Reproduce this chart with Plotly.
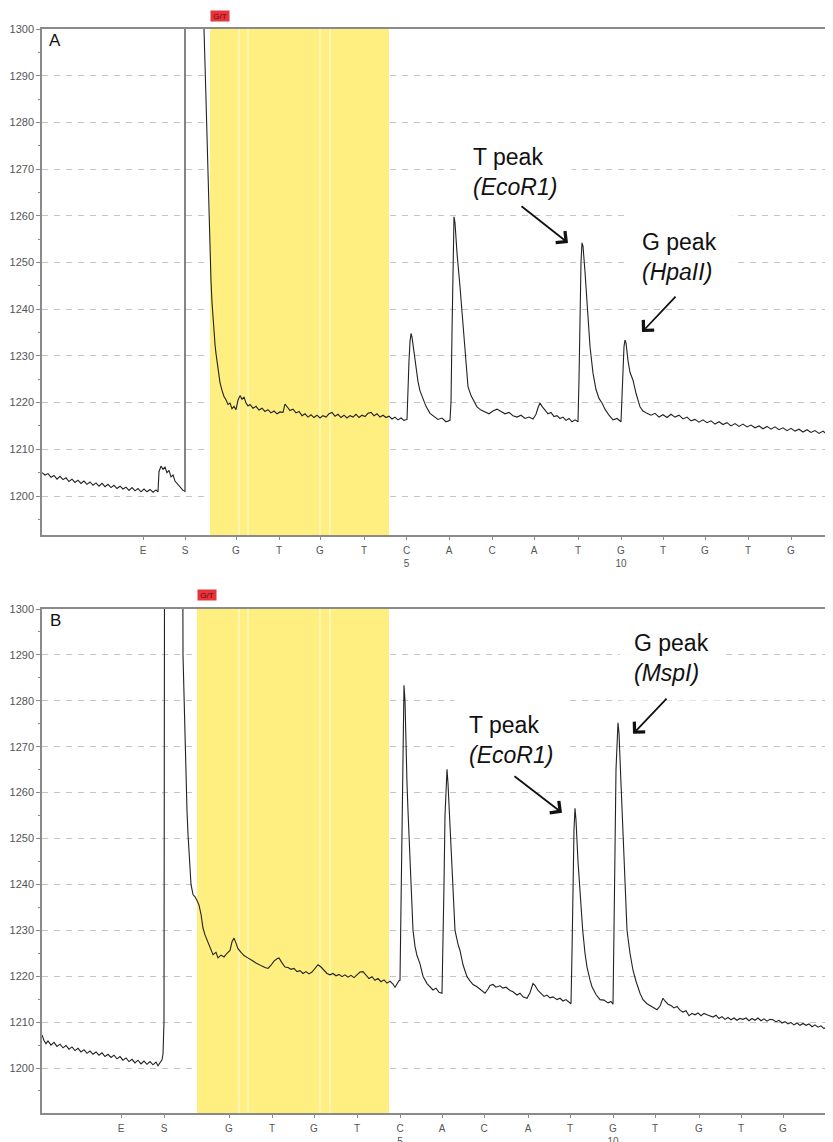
import plotly.graph_objects as go

# ---------------- data ----------------
# Panel A pyrogram: (time [a.u.], light signal)
trace_a = [
    (42,1205.0),(45,1204.5),(48,1204.8),(51,1204.0),(54,1204.4),(57,1203.6),(60,1204.2),(63,1203.5),(66,1203.9),(69,1203.1),
    (72,1203.6),(75,1202.9),(78,1203.4),(81,1202.7),(84,1203.2),(87,1202.5),(90,1203.0),(93,1202.3),(96,1202.8),(99,1202.1),
    (102,1202.7),(105,1202.0),(108,1202.5),(111,1201.8),(114,1202.3),(117,1201.6),(120,1202.1),(123,1201.5),(126,1201.9),(129,1201.2),
    (132,1201.8),(135,1201.1),(138,1201.6),(141,1200.9),(144,1201.5),(147,1200.9),(150,1201.4),(153,1200.8),(156,1201.3),(158,1200.9),
    (159,1205.2),(161,1206.4),(163,1205.7),(165,1206.2),(167,1205.0),(169,1205.5),(171,1204.1),(173,1204.5),(175,1203.2),(177,1202.7),
    (179,1202.0),(181,1201.6),(183,1201.2),(185,1201.0),
    (185,1400),(203,1400),(204,1300),(206,1285),(207,1277),(208,1268),(209,1259),(210,1251),(211,1246),(212,1241.5),(213,1238),
    (214,1235),(215,1232.5),(216,1230.5),(218,1227),(220,1224.3),(222,1222.6),(224,1221.3),(226,1220.6),(228,1219.6),(230,1219.9),
    (232,1218.7),(234,1219.2),(236,1218.5),(238,1220.5),(240,1221.5),(242,1220.7),(244,1221.2),(246,1219.9),(248,1219.3),(250,1219.6),
    (253,1218.8),(256,1219.2),(259,1218.4),(262,1218.8),(265,1218.1),(268,1218.5),(271,1217.8),(274,1218.2),(277,1217.6),(280,1218.0),
    (283,1217.9),(285,1219.7),(287,1219.1),(290,1218.3),(293,1218.6),(296,1217.8),(299,1218.1),(302,1217.2),(305,1217.6),(308,1216.9),
    (311,1217.4),(314,1216.8),(317,1217.3),(320,1216.7),(323,1217.2),(326,1216.9),(329,1217.6),(332,1217.9),(335,1217.1),(338,1217.5),
    (341,1216.8),(344,1217.3),(347,1216.7),(350,1217.2),(353,1216.9),(356,1217.5),(359,1216.8),(362,1217.3),(365,1217.0),(368,1217.7),
    (371,1217.9),(374,1217.2),(377,1217.6),(380,1216.9),(383,1217.3),(386,1216.8),(389,1217.1),(392,1216.5),(395,1216.9),(398,1216.3),
    (401,1216.7),(404,1216.2),(407,1216.4),
    (408,1224),(409,1229),(410,1233),(411,1234.8),(412,1234),(414,1230.5),(416,1227),(418,1224.5),(420,1222.5),(423,1220.6),
    (426,1219.2),(430,1217.7),(434,1217.1),(438,1216.4),(442,1216.7),(446,1215.9),(450,1216.2),
    (451,1220),(452,1235),(453,1250),(454,1259.8),(455,1258.5),(457,1252),(460,1244.8),(462,1239),(465,1230.6),(468,1223.4),
    (471,1221.5),(474,1220.2),(477,1219.1),(481,1218.4),(485,1218.0),(489,1217.6),(493,1218.2),(497,1218.6),(501,1218.1),(505,1217.6),
    (509,1217.9),(513,1217.2),(517,1216.9),(521,1217.3),(525,1216.6),(529,1216.9),(533,1216.5),(536,1217.5),(538,1218.9),(540,1219.9),
    (542,1219.2),(545,1218.5),(548,1217.6),(551,1217.9),(554,1217.0),(557,1217.2),(560,1216.6),(563,1216.9),(566,1216.2),(569,1216.6),
    (572,1215.9),(575,1216.3),(578,1215.9),
    (579,1225),(580,1240),(581,1250),(582,1254.2),(583,1253.5),(585,1248),(588,1237.7),(590,1232),(593,1226.3),(596,1222.8),
    (599,1220.9),(602,1219.9),(605,1218.6),(609,1217.3),(613,1216.3),(617,1216.6),(621,1215.9),
    (622,1222),(623,1228),(624,1232),(625,1233.4),(626,1232.8),(628,1229),(630,1226.5),(633,1224.8),(636,1222),(640,1219.1),
    (643,1218.2),(647,1217.7),(651,1217.3),(655,1217.7),(659,1216.9),(663,1217.4),(667,1216.8),(671,1217.5),(675,1216.9),(679,1217.3),
    (683,1216.5),(687,1216.9),(691,1216.1),(695,1216.4),(699,1215.8),(703,1216.3),(707,1215.7),(711,1216.1),(715,1215.4),(719,1215.9),
    (723,1215.3),(727,1215.7),(731,1215.0),(735,1215.5),(739,1214.9),(743,1215.4),(747,1214.8),(751,1215.2),(755,1214.6),(759,1215.0),
    (763,1214.4),(767,1214.9),(771,1214.3),(775,1214.8),(779,1214.2),(783,1214.6),(787,1214.0),(791,1214.5),(795,1213.9),(799,1214.3),
    (803,1213.7),(807,1214.2),(811,1213.6),(815,1214.0),(819,1213.4),(823,1213.9),(827,1213.2),(830,1213.7),(833,1213.1),
]

# Panel B pyrogram
trace_b = [
    (42,1207.2),(44,1206.0),(46,1205.3),(48,1205.9),(51,1205.0),(54,1205.6),(57,1204.7),(60,1205.2),(63,1204.4),(66,1204.9),
    (69,1204.1),(72,1204.6),(75,1203.8),(78,1204.3),(81,1203.5),(84,1204.0),(87,1203.2),(90,1203.7),(93,1203.0),(96,1203.5),
    (99,1202.8),(102,1203.3),(105,1202.5),(108,1203.0),(111,1202.3),(114,1202.8),(117,1202.0),(120,1202.5),(123,1201.7),(126,1202.2),
    (129,1201.4),(132,1201.9),(135,1201.1),(138,1201.7),(141,1200.9),(144,1201.5),(147,1200.8),(150,1201.4),(153,1200.7),(156,1201.3),
    (158,1200.5),(160,1201.1),(162,1201.8),(163,1203),(164,1210),(165,1400),(182,1400),(183,1290),(184,1280),(185,1272),
    (186,1263),(187,1256),(188,1251),(189,1247),(190,1243),(191,1240),(193,1237.8),(195,1237.3),(197,1236.5),(199,1235.5),
    (201,1233.5),(203,1230.5),(205,1229),(208,1227.3),(210,1226.5),(213,1224.7),(216,1225.2),(218,1224.0),(221,1224.6),(224,1224.2),
    (227,1225.0),(230,1225.6),(232,1227.5),(234,1228.3),(236,1227.2),(238,1226.0),(241,1225.2),(244,1224.5),(247,1224.1),(250,1223.6),
    (253,1223.3),(256,1222.9),(259,1222.5),(262,1222.2),(265,1221.9),(268,1221.7),(271,1222.4),(274,1223.3),(277,1223.8),(279,1224.0),
    (282,1222.9),(285,1222.0),(288,1221.9),(291,1221.5),(294,1221.7),(297,1221.0),(300,1221.2),(303,1220.6),(306,1221.0),(309,1220.5),
    (312,1220.9),(315,1221.6),(318,1222.5),(321,1222.0),(324,1221.3),(327,1220.6),(330,1220.3),(333,1220.6),(336,1220.1),(339,1220.4),
    (342,1219.9),(345,1220.3),(348,1219.8),(351,1220.2),(354,1219.7),(357,1220.3),(360,1220.9),(363,1221.0),(366,1220.2),(369,1219.5),
    (372,1219.9),(375,1219.1),(378,1219.5),(381,1218.8),(384,1219.2),(387,1218.5),(390,1218.9),(393,1218.3),(395,1217.6),(397,1218.4),
    (399,1219.0),(400,1219.1),
    (401,1235),(402,1255),(403,1273),(404,1283.4),(405,1280),(406,1268),(407,1262),(408,1256),(410,1245.4),(411,1238),
    (413,1230),(415,1226.5),(417,1224.5),(420,1222.7),(423,1220.0),(427,1218.4),(430,1217.8),(433,1217.0),(436,1217.4),(439,1216.5),
    (442,1216.3),
    (443,1225),(444,1240),(445,1255),(447,1265.1),(448,1262),(450,1252),(452,1245),(455,1230),(458,1227),(460,1225.6),
    (463,1222.5),(467,1219.9),(470,1219.0),(473,1218.2),(477,1217.7),(481,1217.0),(485,1216.3),(488,1217.2),(490,1218.0),(493,1218.2),
    (496,1217.6),(500,1217.9),(503,1217.4),(506,1217.6),(510,1216.9),(513,1216.6),(517,1215.9),(520,1216.3),(523,1215.5),(527,1215.2),
    (530,1216.4),(533,1218.4),(535,1218.0),(538,1216.9),(541,1216.2),(544,1215.6),(547,1215.9),(550,1215.3),(553,1215.5),(557,1214.9),
    (560,1215.2),(563,1214.6),(566,1214.9),(569,1214.3),(571,1214.0),
    (572,1225),(573,1240),(574,1252),(575,1256.6),(576,1254),(578,1245),(580,1238),(582.7,1230),(585,1225),(587,1222),
    (590,1219.2),(592,1217.7),(596,1216.0),(600,1214.9),(604,1214.8),(608,1214.2),(611,1214.5),(613,1213.9),
    (614,1230),(615,1250),(616,1265),(618,1275.2),(619,1273),(621,1262),(623,1250),(625,1238),(627,1230),(630,1225),
    (633,1221.3),(636,1218.9),(640,1216.3),(643,1214.9),(647,1214.0),(650,1213.6),(653,1213.2),(657,1212.7),(660,1213.5),(663,1215.2),
    (665,1214.6),(668,1213.9),(671,1213.6),(674,1213.1),(677,1213.4),(680,1212.6),(683,1212.2),(686,1212.5),(689,1211.4),(692,1211.9),
    (695,1211.6),(698,1212.0),(701,1211.4),(704,1211.9),(707,1211.6),(710,1211.3),(713,1211.1),(716,1211.5),(719,1210.8),(722,1211.2),
    (725,1210.6),(728,1211.0),(731,1210.5),(734,1210.9),(737,1210.4),(740,1210.8),(743,1210.6),(746,1210.9),(749,1210.3),(752,1210.8),
    (755,1210.4),(758,1210.9),(761,1210.3),(764,1210.7),(767,1210.2),(770,1210.6),(773,1210.5),(776,1210.1),(779,1210.4),(782,1209.8),
    (785,1210.1),(788,1209.6),(791,1209.9),(794,1209.4),(797,1209.8),(800,1209.3),(803,1209.7),(806,1209.3),(809,1209.6),(812,1209.0),
    (815,1209.4),(818,1208.9),(821,1209.2),(824,1208.6),(827,1209.0),(830,1208.5),(833,1208.8),
]

time_a = [p[0] for p in trace_a]
signal_a = [p[1] for p in trace_a]
time_b = [p[0] for p in trace_b]
signal_b = [p[1] for p in trace_b]

dispensation_labels = ["E", "S", "G", "T", "G", "T", "C<br>5", "A", "C", "A", "T", "G<br>10", "T", "G", "T", "G"]
dispensation_time_a = [143, 185, 236, 279, 320, 364, 406.5, 449, 492, 534, 578, 621, 663, 705, 748, 791]
dispensation_time_b = [121, 164, 229, 272, 314, 357, 400, 442, 484, 528, 570, 613, 655, 699, 741, 783]

variable_region_a = [210, 389]
variable_region_b = [197, 389]
region_gaps = [239, 248, 320, 330]

time_range = [42, 833]
y_range_a = [1191.65, 1300]
y_range_b = [1190.2, 1300]

# ---------------- figure ----------------
# the page body has an 8px margin, so the figure is 8px smaller than the window
OFF = 8
W, H = 833 - OFF, 1142 - OFF
FONT = "Arial, Liberation Sans, Helvetica, sans-serif"
AXIS_COL = "#8a8a8a"
TICK_COL = "#555555"
GRID_COL = "#c4c4c4"
YELLOW = "#FFEE80"

def py(p):  # window pixel row -> paper fraction
    return 1 - (p - OFF) / H

fig = go.Figure()
fig.add_trace(go.Scatter(x=time_a, y=signal_a, mode="lines", line=dict(color="#222222", width=1.1),
                         xaxis="x", yaxis="y", showlegend=False, hoverinfo="skip"))
fig.add_trace(go.Scatter(x=time_b, y=signal_b, mode="lines", line=dict(color="#222222", width=1.1),
                         xaxis="x2", yaxis="y2", showlegend=False, hoverinfo="skip"))

def xaxis_cfg(ticks_at, anchor):
    return dict(domain=[0, 1], anchor=anchor, range=time_range, showgrid=False, zeroline=False,
                showline=True, linecolor=AXIS_COL, linewidth=1.5, mirror=True,
                tickmode="array", tickvals=ticks_at, ticktext=dispensation_labels,
                ticks="outside", ticklen=3, tickcolor=AXIS_COL,
                tickfont=dict(family=FONT, size=10, color=TICK_COL), ticklabelstandoff=2)

def yaxis_cfg(dom, rng, anchor):
    return dict(domain=dom, anchor=anchor, range=rng, tickmode="linear", tick0=1200, dtick=10,
                showgrid=True, gridcolor=GRID_COL, griddash="6px,6px", gridwidth=1, zeroline=False,
                showline=True, linecolor=AXIS_COL, linewidth=1.5,
                ticks="outside", ticklen=4, tickcolor=AXIS_COL,
                minor=dict(dtick=5, tick0=1195, ticks="outside", ticklen=2, tickcolor=AXIS_COL, showgrid=False),
                tickfont=dict(family=FONT, size=11, color=TICK_COL))

dom_a = [py(535), py(29)]
dom_b = [py(1113), py(609)]

shapes = []
for xr, yr, region, rng in (("x", "y", variable_region_a, y_range_a), ("x2", "y2", variable_region_b, y_range_b)):
    shapes.append(dict(type="rect", xref=xr, yref=yr, x0=region[0], x1=region[1], y0=rng[0], y1=rng[1],
                       fillcolor=YELLOW, line=dict(width=0), layer="between"))
    for g in region_gaps:
        shapes.append(dict(type="line", xref=xr, yref=yr, x0=g, x1=g, y0=rng[0], y1=rng[1],
                           line=dict(color="#fffbe3", width=1), layer="between"))

ann = []
# panel letters
ann.append(dict(text="A", xref="x domain", yref="y domain", x=0.006, y=1.0, xanchor="left", yanchor="top",
                showarrow=False, font=dict(family=FONT, size=17, color="#111")))
ann.append(dict(text="B", xref="x2 domain", yref="y2 domain", x=0.008, y=1.0, xanchor="left", yanchor="top",
                showarrow=False, font=dict(family=FONT, size=17, color="#111")))
# G/T markers
ann.append(dict(text="G/T", xref="x", yref="paper", x=variable_region_a[0], y=py(16), xanchor="left", yanchor="middle",
                showarrow=False, bgcolor="#e8333a", width=18, height=10, borderpad=0,
                font=dict(family=FONT, size=8, color="#5a0a0a")))
ann.append(dict(text="G/T", xref="x2", yref="paper", x=variable_region_b[0], y=py(595), xanchor="left", yanchor="middle",
                showarrow=False, bgcolor="#e8333a", width=18, height=10, borderpad=0,
                font=dict(family=FONT, size=8, color="#5a0a0a")))

LBL = dict(family=FONT, size=23, color="#111")
def label(text, xr, yr, x, y):
    return dict(text=text, xref=xr, yref=yr, x=x, y=y, xanchor="left", yanchor="top", align="left",
                showarrow=False, bgcolor="white", borderpad=14, font=LBL)

ann.append(label("T peak<br><i>(EcoR1)</i>", "x", "y", 458, 1278.6))
ann.append(label("G peak<br><i>(HpaII)</i>", "x", "y", 627, 1260.4))
ann.append(label("G peak<br><i>(MspI)</i>", "x2", "y2", 619, 1298.7))
ann.append(label("T peak<br><i>(EcoR1)</i>", "x2", "y2", 454, 1280.8))

def arrow(xr, yr, tail, tip):
    return dict(text="", xref=xr, yref=yr, axref=xr, ayref=yr, x=tip[0], y=tip[1], ax=tail[0], ay=tail[1],
                showarrow=True, arrowhead=4, arrowsize=1.6, arrowwidth=1.8, arrowcolor="#111", standoff=0)

ann.append(arrow("x", "y", (520, 1262.3), (568, 1254.2)))
ann.append(arrow("x", "y", (677, 1243.0), (642, 1235.1)))
ann.append(arrow("x2", "y2", (668, 1280.8), (633, 1272.8)))
ann.append(arrow("x2", "y2", (513, 1263.8), (562, 1255.6)))

fig.update_layout(
    width=W, height=H, margin=dict(l=42 - OFF, r=0, t=0, b=0, autoexpand=False),
    paper_bgcolor="white", plot_bgcolor="white",
    xaxis=xaxis_cfg(dispensation_time_a, "y"),
    yaxis=yaxis_cfg(dom_a, y_range_a, "x"),
    xaxis2=xaxis_cfg(dispensation_time_b, "y2"),
    yaxis2=yaxis_cfg(dom_b, y_range_b, "x2"),
    shapes=shapes, annotations=ann, showlegend=False,
)

fig.write_html("out.html")
